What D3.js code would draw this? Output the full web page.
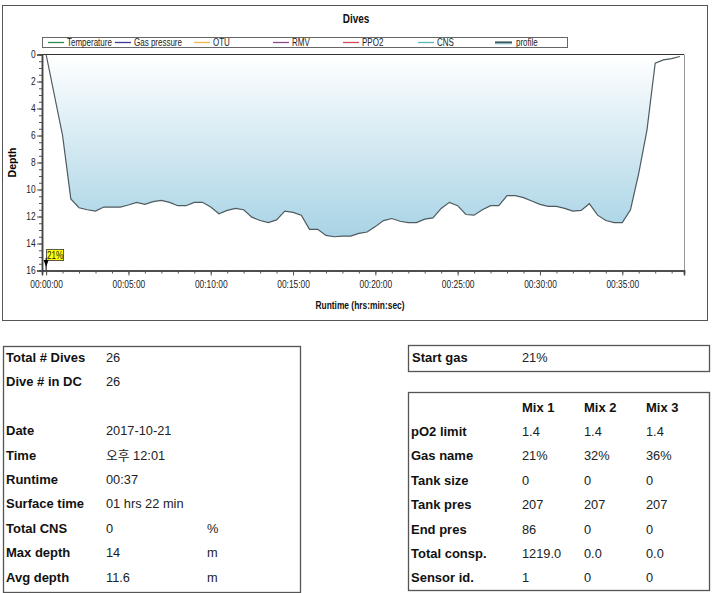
<!DOCTYPE html>
<html><head><meta charset="utf-8">
<script src="https://cdn.jsdelivr.net/npm/d3@7"></script>
<style>
body{margin:0;background:#fff;}
svg{display:block;}
</style></head>
<body>
<svg id="c" width="712" height="593"></svg>
<script>
// ---- data ----
const timeMin = [0,0.5,1,1.5,2,2.5,3,3.5,4,4.5,5,5.5,6,6.5,7,7.5,8,8.5,9,9.5,10,10.5,11,11.5,12,12.5,13,13.5,14,14.5,15,15.5,16,16.5,17,17.5,18,18.5,19,19.5,20,20.5,21,21.5,22,22.5,23,23.5,24,24.5,25,25.5,26,26.5,27,27.5,28,28.5,29,29.5,30,30.5,31,31.5,32,32.5,33,33.5,34,34.5,35,35.5,36,36.5,37,37.5,38,38.5];
const depth = [0,3.0,6.0,10.7,11.35,11.5,11.6,11.3,11.3,11.3,11.15,10.95,11.1,10.9,10.8,10.95,11.2,11.2,10.95,10.95,11.3,11.8,11.55,11.4,11.5,12.05,12.3,12.45,12.25,11.6,11.7,11.9,12.95,12.95,13.4,13.5,13.45,13.45,13.25,13.15,12.75,12.3,12.15,12.35,12.45,12.45,12.2,12.1,11.4,10.95,11.2,11.85,11.9,11.5,11.2,11.2,10.45,10.45,10.6,10.85,11.1,11.25,11.25,11.4,11.6,11.55,11.05,11.9,12.3,12.45,12.45,11.5,8.8,5.6,0.64,0.4,0.3,0.15];
const xTicks = [0,5,10,15,20,25,30,35];
const xTickLabels = ["00:00:00","00:05:00","00:10:00","00:15:00","00:20:00","00:25:00","00:30:00","00:35:00"];
const yTicks = [0,2,4,6,8,10,12,14,16];
const legendNames = ["Temperature","Gas pressure","OTU","RMV","PPO2","CNS","profile"];
const legendColors = ["#2e8b57","#3a3a9a","#e8b84a","#8a4a8a","#d04a5a","#5ab8b0","#3d5a5a"];
const gasMarkerTime = [0];
const gasMarkerLabel = ["21%"];

const infoLabels = ["Total # Dives","Dive # in DC","","Date","Time","Runtime","Surface time","Total CNS","Max depth","Avg depth"];
const infoValues = ["26","26","","2017-10-21","오후 12:01","00:37","01 hrs 22 min","0","14","11.6"];
const infoUnits = ["","","","","","","","%","m","m"];
const startGasLabel = "Start gas";
const startGasValue = "21%";
const mixHeaders = ["Mix 1","Mix 2","Mix 3"];
const mixRowLabels = ["pO2 limit","Gas name","Tank size","Tank pres","End pres","Total consp.","Sensor id."];
const mix1 = ["1.4","21%","0","207","86","1219.0","1"];
const mix2 = ["1.4","32%","0","207","0","0.0","0"];
const mix3 = ["1.4","36%","0","207","0","0.0","0"];

// ---- drawing ----
const svg = d3.select("#c");
const narrow = "'Liberation Sans Narrow','Arial Narrow',Arial,sans-serif";
const sans = "'Liberation Sans',Arial,'Noto Sans CJK KR',sans-serif";
const SX = 0.8; // horizontal condensation for the narrow chart font

// narrow text helper
function ntext(g, x0, y0, str, size, anchor, bold){
  return g.append("text").attr("transform",`translate(${x0},${y0}) scale(${SX},1)`)
    .attr("text-anchor",anchor||"start").attr("font-family",narrow)
    .attr("font-size",size).attr("font-weight",bold?"bold":"normal").attr("fill","#222").text(str);
}

// chart frame
svg.append("rect").attr("x",2.5).attr("y",5.5).attr("width",705).attr("height",315)
  .attr("fill","#fff").attr("stroke","#555").attr("stroke-width",1);

ntext(svg,356,23,"Dives",12.5,"middle",true).attr("fill","#111");

// legend
const lg = svg.append("g");
lg.append("rect").attr("x",42.5).attr("y",37.5).attr("width",525).attr("height",10)
  .attr("fill","#fff").attr("stroke","#666").attr("stroke-width",1);
const legX = [48,115,194,273,343,418,495];
legendNames.forEach((n,i)=>{
  if(i===6){
    lg.append("line").attr("x1",legX[i]).attr("x2",legX[i]+17).attr("y1",42.5).attr("y2",42.5)
      .attr("stroke","#3d5a5a").attr("stroke-width",2.2);
    lg.append("line").attr("x1",legX[i]).attr("x2",legX[i]+17).attr("y1",43.8).attr("y2",43.8)
      .attr("stroke","#8ec6d8").attr("stroke-width",1);
  } else {
    lg.append("line").attr("x1",legX[i]).attr("x2",legX[i]+16).attr("y1",42.5).attr("y2",42.5)
      .attr("stroke",legendColors[i]).attr("stroke-width",1.3);
  }
  ntext(lg,legX[i]+(i===6?21:19),46.3,n,10,"start",false);
});

const x = d3.scaleLinear().domain([-0.25,38.75]).range([42,684]);
const y = d3.scaleLinear().domain([0,16]).range([54.5,270.5]);

// gradient
const defs = svg.append("defs");
const grad = defs.append("linearGradient").attr("id","g").attr("gradientUnits","userSpaceOnUse")
  .attr("x1",0).attr("x2",0).attr("y1",y(0)).attr("y2",y(16));
grad.append("stop").attr("offset","0%").attr("stop-color","#ffffff");
grad.append("stop").attr("offset","100%").attr("stop-color","#98cbe0");

const pts = timeMin.map((t,i)=>[t,depth[i]]);
svg.append("path").datum(pts)
  .attr("d",d3.area().x(d=>x(d[0])).y0(y(0)).y1(d=>y(d[1])))
  .attr("fill","url(#g)");
svg.append("path").datum(pts)
  .attr("d",d3.line().x(d=>x(d[0])).y(d=>y(d[1])))
  .attr("fill","none").attr("stroke","#4d5b60").attr("stroke-width",1.2);

// plot frame top/right
svg.append("line").attr("x1",42).attr("x2",684).attr("y1",54.5).attr("y2",54.5).attr("stroke","#333").attr("stroke-width",1);
svg.append("line").attr("x1",684.5).attr("x2",684.5).attr("y1",54.5).attr("y2",270.5).attr("stroke","#999").attr("stroke-width",1);

// x axis
const xMinor = d3.range(0,39,1);
const xa = svg.append("g").attr("transform",`translate(0,${y(16)})`);
xa.call(d3.axisBottom(x).tickValues(xMinor).tickSize(3).tickFormat(""));
xa.append("g").call(d3.axisBottom(x).tickValues(xTicks).tickSize(5).tickFormat((d,i)=>xTickLabels[i]));
xa.selectAll("path.domain").attr("stroke","#444").attr("stroke-width",1.5);
xa.selectAll("line").attr("stroke","#555");
xa.selectAll("text").attr("font-family",narrow).attr("font-size",10.5).attr("fill","#222")
  .attr("dy","0.95em").attr("transform",`scale(${SX},1)`);

// y axis
const ya = svg.append("g").attr("transform",`translate(42,0)`);
ya.call(d3.axisLeft(y).tickValues(d3.range(0,16.01,0.5)).tickSize(3).tickFormat(""));
ya.append("g").call(d3.axisLeft(y).tickValues(yTicks).tickSize(5).tickFormat(d3.format("d")));
ya.selectAll("path.domain").attr("stroke","#444").attr("stroke-width",1.5);
ya.selectAll("line").attr("stroke","#555");
ya.selectAll("text").attr("font-family",narrow).attr("font-size",10.5).attr("fill","#222")
  .attr("transform",`scale(${SX},1)`);

svg.append("text").attr("transform",`translate(16,${y(8)}) rotate(-90)`).attr("text-anchor","middle")
  .attr("font-family",narrow).attr("font-weight","bold").attr("font-size",10.5).text("Depth");
ntext(svg,360,309,"Runtime (hrs:min:sec)",10.5,"middle",true).attr("fill","#111");

// gas marker
gasMarkerTime.forEach((t,i)=>{
  const mx = x(t);
  svg.append("rect").attr("x",mx+0.5).attr("y",249.5).attr("width",17).attr("height",11)
    .attr("fill","#ffff00").attr("stroke","#333").attr("stroke-width",0.8);
  ntext(svg,mx+9,258.5,gasMarkerLabel[i],10,"middle",false);
  svg.append("line").attr("x1",mx).attr("x2",mx).attr("y1",258).attr("y2",270).attr("stroke","#000").attr("stroke-width",1);
  svg.append("path").attr("d",`M${mx-2.5},${260} L${mx+2.5},${260} L${mx},${267} Z`).attr("fill","#000");
});

// ---- tables ----
function box(x0,y0,w,h){
  svg.append("rect").attr("x",x0+0.5).attr("y",y0+0.5).attr("width",w).attr("height",h)
    .attr("fill","none").attr("stroke","#555").attr("stroke-width",1.3);
}
const rowH = 24.4;
const LS = 13, VS = 12.8;
box(3,346,297,246);
infoLabels.forEach((l,i)=>{
  const yy = 362 + i*rowH;
  svg.append("text").attr("x",6).attr("y",yy).attr("font-family",sans).attr("font-weight","bold")
    .attr("font-size",LS).attr("fill","#111").text(l);
  svg.append("text").attr("x",106).attr("y",yy).attr("font-family",sans)
    .attr("font-size",VS).attr("fill","#222").text(infoValues[i]);
  svg.append("text").attr("x",207).attr("y",yy).attr("font-family",sans)
    .attr("font-size",VS).attr("fill","#222").text(infoUnits[i]);
});

box(408,345,301,26);
svg.append("text").attr("x",412).attr("y",362).attr("font-family",sans).attr("font-weight","bold")
  .attr("font-size",LS).attr("fill","#111").text(startGasLabel);
svg.append("text").attr("x",522).attr("y",362).attr("font-family",sans)
  .attr("font-size",VS).attr("fill","#222").text(startGasValue);

box(408,392,301,198);
const mixX = [522,584,646];
mixHeaders.forEach((h,j)=>{
  svg.append("text").attr("x",mixX[j]).attr("y",412).attr("font-family",sans).attr("font-weight","bold")
    .attr("font-size",LS).attr("fill","#111").text(h);
});
const mixCols = [mix1,mix2,mix3];
mixRowLabels.forEach((l,i)=>{
  const yy = 436 + i*rowH;
  svg.append("text").attr("x",411).attr("y",yy).attr("font-family",sans).attr("font-weight","bold")
    .attr("font-size",LS).attr("fill","#111").text(l);
  mixCols.forEach((col,j)=>{
    svg.append("text").attr("x",mixX[j]).attr("y",yy).attr("font-family",sans)
      .attr("font-size",VS).attr("fill","#222").text(col[i]);
  });
});
</script>
</body></html>
